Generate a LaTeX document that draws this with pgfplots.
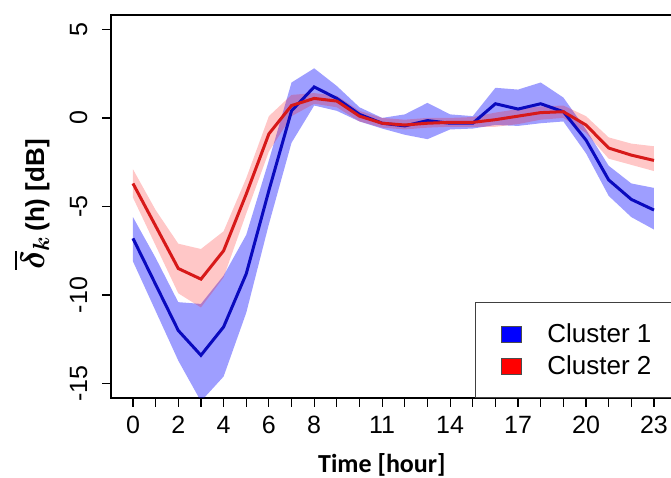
\documentclass[border=0pt]{standalone}
\usepackage{fontspec}
\setmainfont{Liberation Sans}
\newfontfamily\carlito{Carlito}
\usepackage{amsmath}
\usepackage{pgfplots}
\pgfplotsset{compat=1.18}
\usepgfplotslibrary{fillbetween}
\usepackage{pgfplotstable}

% hour, cluster 1 mean/upper/lower, cluster 2 mean/upper/lower
\pgfplotstableread{
h  b      bu     bl     r      ru     rl
0  -6.8   -5.6   -8.1   -3.7   -2.9   -4.5
1  -9.4   -7.9   -10.9  -6.1   -5.2   -7.2
2  -12.0  -10.4  -13.7  -8.5   -7.1   -9.9
3  -13.4  -10.5  -16.0  -9.1   -7.4   -10.7
4  -11.8  -8.9   -14.6  -7.5   -6.4   -9.0
5  -8.8   -6.6   -11.0  -4.3   -3.4   -5.4
6  -4.1   -2.4   -6.0   -0.9   0.1    -1.9
7  0.4    2.0    -1.4   0.7    1.3    0.1
8  1.75   2.8    0.7    1.1    1.4    0.8
9  1.1    1.8    0.4    0.95   1.25   0.6
10 0.2    0.6    -0.2   0.1    0.4    -0.2
11 -0.3   0.0    -0.6   -0.3   0.0    -0.55
12 -0.45  0.2    -0.95  -0.4   -0.1   -0.65
13 -0.15  0.85   -1.2   -0.3   0.0    -0.55
14 -0.3   0.2    -0.65  -0.25  0.0    -0.5
15 -0.3   0.1    -0.6   -0.25  0.05   -0.5
16 0.8    1.7    -0.4   -0.1   0.3    -0.5
17 0.5    1.6    -0.45  0.1    0.5    -0.35
18 0.8    2.0    -0.3   0.3    0.65   -0.1
19 0.35   1.15   -0.2   0.35   0.7    0.0
20 -1.25  -0.65  -2.0   -0.4   0.1    -0.85
21 -3.5   -2.7   -4.4   -1.7   -1.1   -2.3
22 -4.6   -3.7   -5.6   -2.1   -1.45  -2.65
23 -5.2   -3.95  -6.3   -2.4   -1.6   -3.0
}\data

\definecolor{c1line}{RGB}{10,10,190}
\definecolor{c2line}{RGB}{215,25,25}

\begin{document}
\begin{tikzpicture}
\begin{axis}[
    at={(111pt,80pt)}, anchor=south west,
    scale only axis, width=562pt, height=383pt,
    xmin=-0.97, xmax=23.84, ymin=-15.81, ymax=5.81,
    xtick={0,...,23},
    xticklabels={0,,2,,4,,6,,8,,,11,,,14,,,17,,,20,,,23},
    ytick={-15,-10,-5,0,5},
    xtick pos=lower, ytick pos=left,
    tick align=outside, major tick length=9pt,
    axis line style={line width=1.2pt},
    tick style={line width=1.2pt, black},
    /pgf/number format/assume math mode=true,
    ticklabel style={font=\fontsize{25}{30}\selectfont},
    yticklabel style={rotate=90, anchor=south},
    yticklabel shift=11pt,
    xticklabel shift=6pt,
    xlabel={{\carlito\bfseries Time [hour]}},
    xlabel style={font=\fontsize{26}{31}\selectfont, at={(axis description cs:0.482,0)}, anchor=base, yshift=-75pt},
    ylabel={\bfseries \scalebox{1.35}{$\overline{\boldsymbol{\delta}}_{\boldsymbol{k}}$}\,(h) [dB]},
    ylabel style={font=\fontsize{26}{31}\selectfont, at={(axis description cs:-0.141,0.505)}, anchor=center},
    legend style={at={(0.6477,0)}, anchor=south west, draw=black!75, line width=1pt,
      font=\fontsize{26}{31}\selectfont, inner xsep=25pt, inner ysep=19pt, row sep=8pt,
      /tikz/every odd column/.append style={column sep=24pt}},
    legend cell align=left,
  ]
  \addplot[name path=bu, draw=none, forget plot] table[x=h, y=bu] {\data};
  \addplot[name path=bl, draw=none, forget plot] table[x=h, y=bl] {\data};
  \addplot[fill=blue, fill opacity=0.38, draw=none, forget plot] fill between[of=bu and bl];
  \addplot[name path=ru, draw=none, forget plot] table[x=h, y=ru] {\data};
  \addplot[name path=rl, draw=none, forget plot] table[x=h, y=rl] {\data};
  \addplot[fill=red, fill opacity=0.22, draw=none, forget plot] fill between[of=ru and rl];
  \addplot[c1line, line width=3pt, forget plot] table[x=h, y=b] {\data};
  \addplot[c2line, line width=3pt, forget plot] table[x=h, y=r] {\data};

  \addlegendimage{legend image code/.code={\draw[fill=blue, draw=black!70, line width=0.8pt] (0pt,-8pt) rectangle (20pt,8pt);}}
  \addlegendentry{Cluster 1}
  \addlegendimage{legend image code/.code={\draw[fill=red, draw=black!70, line width=0.8pt] (0pt,-8pt) rectangle (20pt,8pt);}}
  \addlegendentry{Cluster 2}
\end{axis}
\pgfresetboundingbox
\path[use as bounding box] (0,0) rectangle (671pt,478pt);
\end{tikzpicture}
\end{document}
